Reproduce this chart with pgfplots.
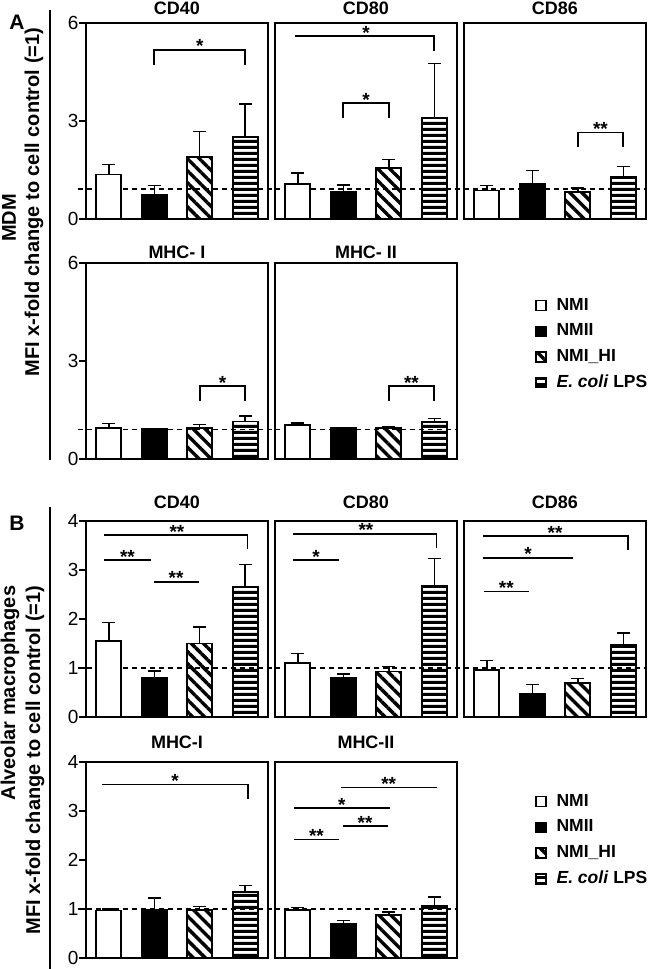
\documentclass[border=0pt]{standalone}
\usepackage{fontspec}
\setmainfont{Liberation Sans}
\usepackage{pgfplots}
\pgfplotsset{compat=1.18}
\usetikzlibrary{patterns.meta}

\newcommand\ttl{\fontsize{18}{22}\selectfont\bfseries}
\newcommand\lbl{\fontsize{20}{24}\selectfont\bfseries}
\newcommand\tck{\fontsize{19}{22}\selectfont}
\newcommand\stf{\fontsize{19}{20}\selectfont\bfseries}
\newcommand\lgf{\fontsize{17.5}{22}\selectfont\bfseries}

\pgfdeclarepatternformonly{hstripes}{\pgfpointorigin}{\pgfpoint{200pt}{6.4pt}}{\pgfpoint{200pt}{6.4pt}}{%
  \pgfpathrectangle{\pgfpointorigin}{\pgfpoint{200pt}{3.4pt}}\pgfusepath{fill}}

\pgfplotsset{
 panel/.style={scale only axis, width=182pt, height=196pt, xmin=-0.5, xmax=3.5, ymin=0,
   xtick=\empty, ytick=\empty, axis line style={line width=1.9pt}, clip=false,
   title style={font=\ttl, at={(0.5,1)}, anchor=base, inner sep=0pt}},
 leftcol/.style={ytick pos=left, tick align=outside, major tick length=7pt,
   tick style={line width=1.6pt, black}, yticklabel style={font=\tck, xshift=3pt},
   /pgf/number format/assume math mode=true},
 b/.style={ybar, bar width=25pt, bar shift=0pt, draw=black, line width=1.8pt,
   /pgfplots/error bars/y dir=plus, /pgfplots/error bars/y explicit,
   /pgfplots/error bars/error bar style={line width=1.5pt, black, solid},
   /pgfplots/error bars/error mark options={rotate=90, mark size=6.5pt, line width=1.5pt, black}},
 nmi/.style={b, fill=white},
 nmii/.style={b, fill=black},
 nmihi/.style={b, pattern={Lines[angle=-45,distance=8.5pt,line width=3.4pt]}},
 lps/.style={b, pattern=hstripes},
 sq/.style={legend image code/.code={\draw[##1, line width=1.4pt] (0pt,-5pt) rectangle (10pt,5pt);}},
 dl/.style={black, line width=1.3pt, dash pattern=on 5pt off 4pt, mark=none, sharp plot},
 lgd/.style={legend style={at={(1,1)}, anchor=north west, xshift=#1, draw=none, fill=none,
   font=\lgf, row sep=6.7pt, inner sep=0pt, nodes={inner sep=1pt, text height=13pt, text depth=4pt},
   /tikz/every odd column/.append style={column sep=9pt}}, legend cell align=left},
}
\tikzset{br/.style={black, line width=1.8pt}, st/.style={anchor=base, yshift=-3pt, font=\stf, inner sep=0pt}}

\begin{document}
\begin{tikzpicture}
% ---------------- Panel A ----------------
\begin{axis}[panel, leftcol, ymax=6, ytick={0,3,6}, at={(86pt,750pt)}, title={CD40}, title style={yshift=2pt}]
\addplot[dl, forget plot] coordinates {(-0.68,0.92) (3.65,0.92)};
\addplot[nmi] coordinates {(0,1.36) +- (0,0.31)};
\addplot[nmii] coordinates {(1,0.73) +- (0,0.30)};
\addplot[nmihi] coordinates {(2,1.89) +- (0,0.79)};
\addplot[lps] coordinates {(3,2.52) +- (0,1.00)};
\draw[br] (axis cs:1,4.70) -- (axis cs:1,5.18) -- (axis cs:3,5.18) -- (axis cs:3,4.70);
\node[st] at (axis cs:2,5.18) {*};
\end{axis}

\begin{axis}[panel, ymax=6, at={(275pt,750pt)}, title={CD80}, title style={yshift=2pt}]
\addplot[dl, forget plot] coordinates {(-0.5,0.92) (3.65,0.92)};
\addplot[nmi] coordinates {(0,1.07) +- (0,0.34)};
\addplot[nmii] coordinates {(1,0.84) +- (0,0.20)};
\addplot[nmihi] coordinates {(2,1.55) +- (0,0.27)};
\addplot[lps] coordinates {(3,3.09) +- (0,1.67)};
\draw[br] (axis cs:-0.05,5.59) -- (axis cs:3,5.59) -- (axis cs:3,5.13);
\node[st] at (axis cs:1.5,5.59) {*};
\draw[br] (axis cs:1,3.09) -- (axis cs:1,3.55) -- (axis cs:2,3.55) -- (axis cs:2,3.09);
\node[st] at (axis cs:1.5,3.55) {*};
\end{axis}

\begin{axis}[panel, ymax=6, at={(464pt,750pt)}, title={CD86}, title style={yshift=2pt}]
\addplot[dl, forget plot] coordinates {(-0.5,0.92) (3.5,0.92)};
\addplot[nmi] coordinates {(0,0.87) +- (0,0.15)};
\addplot[nmii] coordinates {(1,1.07) +- (0,0.41)};
\addplot[nmihi] coordinates {(2,0.82) +- (0,0.13)};
\addplot[lps] coordinates {(3,1.28) +- (0,0.32)};
\draw[br] (axis cs:2,2.21) -- (axis cs:2,2.65) -- (axis cs:3,2.65) -- (axis cs:3,2.21);
\node[st] at (axis cs:2.5,2.65) {**};
\end{axis}

\begin{axis}[panel, leftcol, ymax=6, ytick={0,3,6}, at={(86pt,510pt)}, title={MHC- I}, title style={yshift=-2pt}]
\addplot[dl, forget plot] coordinates {(-0.68,0.9) (3.65,0.9)};
\addplot[nmi] coordinates {(0,0.95) +- (0,0.13)};
\addplot[nmii] coordinates {(1,0.92) +- (0,0.01)};
\addplot[nmihi] coordinates {(2,0.96) +- (0,0.09)};
\addplot[lps] coordinates {(3,1.15) +- (0,0.17)};
\draw[br] (axis cs:2,1.77) -- (axis cs:2,2.23) -- (axis cs:3,2.23) -- (axis cs:3,1.77);
\node[st] at (axis cs:2.5,2.23) {*};
\end{axis}

\begin{axis}[panel, ymax=6, at={(275pt,510pt)}, title={MHC- II}, title style={yshift=-2pt}, lgd=78pt, legend style={yshift=-33pt}]
\addplot[dl, forget plot] coordinates {(-0.5,0.9) (3.5,0.9)};
\addplot[nmi, sq] coordinates {(0,1.05) +- (0,0.05)};
\addplot[nmii, sq] coordinates {(1,0.94) +- (0,0.03)};
\addplot[nmihi, sq] coordinates {(2,0.95) +- (0,0.05)};
\addplot[lps, sq] coordinates {(3,1.14) +- (0,0.10)};
\draw[br] (axis cs:2,1.77) -- (axis cs:2,2.23) -- (axis cs:3,2.23) -- (axis cs:3,1.77);
\node[st] at (axis cs:2.5,2.23) {**};
\legend{NMI, NMII, NMI\_HI, \textit{E. coli} LPS}
\end{axis}

% ---------------- Panel B ----------------
\begin{axis}[panel, leftcol, ymax=4, ytick={0,1,2,3,4}, at={(86pt,252pt)}, title={CD40}, title style={yshift=6pt}]
\addplot[dl, forget plot] coordinates {(-0.68,1) (3.65,1)};
\addplot[nmi] coordinates {(0,1.55) +- (0,0.38)};
\addplot[nmii] coordinates {(1,0.79) +- (0,0.15)};
\addplot[nmihi] coordinates {(2,1.50) +- (0,0.34)};
\addplot[lps] coordinates {(3,2.66) +- (0,0.45)};
\draw[br] (axis cs:-0.1,3.71) -- (axis cs:3.05,3.71) -- (axis cs:3.05,3.42);
\node[st] at (axis cs:1.5,3.71) {**};
\draw[br] (axis cs:-0.1,3.20) -- (axis cs:0.93,3.20);
\node[st] at (axis cs:0.41,3.20) {**};
\draw[br] (axis cs:0.99,2.76) -- (axis cs:1.98,2.76);
\node[st] at (axis cs:1.48,2.76) {**};
\end{axis}

\begin{axis}[panel, ymax=4, at={(275pt,252pt)}, title={CD80}, title style={yshift=6pt}]
\addplot[dl, forget plot] coordinates {(-0.5,1) (3.65,1)};
\addplot[nmi] coordinates {(0,1.10) +- (0,0.20)};
\addplot[nmii] coordinates {(1,0.79) +- (0,0.09)};
\addplot[nmihi] coordinates {(2,0.93) +- (0,0.10)};
\addplot[lps] coordinates {(3,2.67) +- (0,0.56)};
\draw[br] (axis cs:-0.1,3.74) -- (axis cs:3.05,3.74) -- (axis cs:3.05,3.44);
\node[st] at (axis cs:1.5,3.74) {**};
\draw[br] (axis cs:-0.1,3.20) -- (axis cs:0.91,3.20);
\node[st] at (axis cs:0.4,3.20) {*};
\end{axis}

\begin{axis}[panel, ymax=4, at={(464pt,252pt)}, title={CD86}, title style={yshift=6pt}]
\addplot[dl, forget plot] coordinates {(-0.5,1) (3.5,1)};
\addplot[nmi] coordinates {(0,0.96) +- (0,0.19)};
\addplot[nmii] coordinates {(1,0.47) +- (0,0.19)};
\addplot[nmihi] coordinates {(2,0.70) +- (0,0.09)};
\addplot[lps] coordinates {(3,1.47) +- (0,0.24)};
\draw[br] (axis cs:-0.08,3.69) -- (axis cs:3.1,3.69) -- (axis cs:3.1,3.40);
\node[st] at (axis cs:1.5,3.69) {**};
\draw[br] (axis cs:-0.08,3.25) -- (axis cs:1.9,3.25);
\node[st] at (axis cs:0.91,3.25) {*};
\draw[br] (axis cs:-0.06,2.56) -- (axis cs:0.93,2.56);
\node[st] at (axis cs:0.43,2.56) {**};
\end{axis}

\begin{axis}[panel, leftcol, ymax=4, ytick={0,1,2,3,4}, at={(86pt,11pt)}, title={MHC-I}, title style={yshift=8pt}]
\addplot[dl, forget plot] coordinates {(-0.68,1) (3.65,1)};
\addplot[nmi] coordinates {(0,0.97) +- (0,0.03)};
\addplot[nmii] coordinates {(1,0.98) +- (0,0.24)};
\addplot[nmihi] coordinates {(2,0.98) +- (0,0.07)};
\addplot[lps] coordinates {(3,1.34) +- (0,0.14)};
\draw[br] (axis cs:-0.14,3.54) -- (axis cs:3.06,3.54) -- (axis cs:3.06,3.24);
\node[st] at (axis cs:1.46,3.54) {*};
\end{axis}

\begin{axis}[panel, ymax=4, at={(275pt,11pt)}, title={MHC-II}, title style={yshift=8pt}, lgd=78pt, legend style={yshift=-30pt}]
\addplot[dl, forget plot] coordinates {(-0.5,1) (3.5,1)};
\addplot[nmi, sq] coordinates {(0,0.98) +- (0,0.05)};
\addplot[nmii, sq] coordinates {(1,0.70) +- (0,0.07)};
\addplot[nmihi, sq] coordinates {(2,0.88) +- (0,0.06)};
\addplot[lps, sq] coordinates {(3,1.06) +- (0,0.18)};
\draw[br] (axis cs:0.95,3.48) -- (axis cs:3.07,3.48);
\node[st] at (axis cs:2.0,3.48) {**};
\draw[br] (axis cs:-0.08,3.06) -- (axis cs:2.02,3.06);
\node[st] at (axis cs:0.97,3.06) {*};
\draw[br] (axis cs:0.99,2.69) -- (axis cs:1.98,2.69);
\node[st] at (axis cs:1.48,2.69) {**};
\draw[br] (axis cs:-0.08,2.42) -- (axis cs:0.9,2.42);
\node[st] at (axis cs:0.41,2.42) {**};
\legend{NMI, NMII, NMI\_HI, \textit{E. coli} LPS}
\end{axis}

% ---------------- side labels ----------------
\draw[line width=1.8pt] (50pt,959pt) -- (50pt,509pt);
\draw[line width=1.8pt] (50pt,462pt) -- (50pt,0pt);
\node[font=\lbl, anchor=center] at (17pt,947pt) {\fontsize{21}{24}\selectfont A};
\node[font=\lbl, anchor=center] at (17pt,446pt) {\fontsize{21}{24}\selectfont B};
\node[font=\lbl, rotate=90] at (9pt,751pt) {MDM};
\node[font=\lbl, rotate=90] at (34pt,767pt) {MFI x-fold change to cell control (=1)};
\node[font=\lbl, rotate=90] at (10pt,276pt) {Alveolar macrophages};
\node[font=\lbl, rotate=90] at (35pt,209pt) {MFI x-fold change to cell control (=1)};

\pgfresetboundingbox
\useasboundingbox (0pt,0pt) rectangle (650pt,969pt);
\end{tikzpicture}
\end{document}
